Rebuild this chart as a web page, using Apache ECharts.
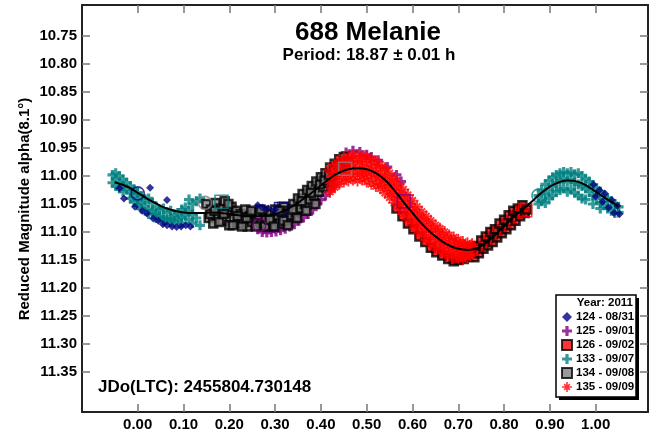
<!DOCTYPE html>
<html><head><meta charset="utf-8">
<script src="https://cdn.jsdelivr.net/npm/echarts@6/dist/echarts.min.js"></script>
<style>html,body{margin:0;padding:0;background:#fff}#c{width:650px;height:433px}</style>
</head><body><div id="c"></div>
<script>
// ---------- DATA ----------
const sessionNames = ['124 - 08/31','125 - 09/01','126 - 09/02','133 - 09/07','134 - 09/08','135 - 09/09'];
const xTicks = [0.00,0.10,0.20,0.30,0.40,0.50,0.60,0.70,0.80,0.90,1.00];
const yTicks = [10.75,10.80,10.85,10.90,10.95,11.00,11.05,11.10,11.15,11.20,11.25,11.30,11.35];

// Fourier fit curve (phase, reduced magnitude)
const fitPhase = [-0.05,-0.02,0.00,0.02,0.04,0.06,0.08,0.10,0.12,0.14,0.16,0.18,0.20,0.22,0.24,0.26,0.28,0.30,0.32,0.34,0.36,0.38,0.40,0.42,0.44,0.46,0.48,0.50,0.52,0.54,0.56,0.58,0.60,0.62,0.64,0.66,0.68,0.70,0.72,0.74,0.76,0.78,0.80,0.82,0.84,0.86,0.88,0.90,0.92,0.94,0.96,0.98,1.00,1.02,1.04,1.05];
const fitMag = [11.011,11.020,11.030,11.040,11.049,11.057,11.062,11.065,11.066,11.066,11.065,11.066,11.068,11.070,11.072,11.072,11.071,11.068,11.062,11.053,11.042,11.030,11.017,11.004,10.994,10.988,10.986,10.988,10.995,11.007,11.025,11.046,11.066,11.085,11.101,11.114,11.124,11.130,11.132,11.129,11.120,11.106,11.090,11.074,11.060,11.046,11.031,11.019,11.011,11.008,11.010,11.017,11.028,11.039,11.049,11.055];

// 124 - 08/31
const s124 = [[-0.040,11.022],[-0.030,11.040],[-0.006,11.055],[0.010,11.062],[0.020,11.067],[0.027,11.021],[0.034,11.076],[0.045,11.080],[0.055,11.086],[0.064,11.043],[0.064,11.088],[0.075,11.090],[0.085,11.091],[0.095,11.090],[0.105,11.088],[0.115,11.090],
 [0.262,11.052],[0.272,11.056],[0.285,11.058],[0.300,11.060],
 [0.995,11.015],[1.000,11.036],[1.008,11.025],[1.015,11.046],[1.020,11.031],[1.028,11.056],[1.035,11.043],[1.040,11.066],[1.047,11.053],[1.052,11.068]];
// 125 - 09/01
const s125 = [[0.262,11.095],[0.272,11.100],[0.282,11.101],[0.292,11.100],[0.302,11.099],[0.312,11.097],[0.322,11.094],[0.332,11.090],[0.342,11.086],[0.352,11.080],[0.362,11.074],[0.372,11.068],[0.382,11.060],[0.392,11.050],[0.400,11.042],[0.410,11.035],[0.420,11.025],[0.430,11.015],[0.307,11.055],
 [0.455,10.958],[0.470,10.955],[0.485,10.957],[0.500,10.962],[0.510,10.966],[0.525,10.972],[0.545,10.984],[0.565,10.998],[0.575,11.010]];
// 126 - 09/02
const s126 = [[0.565,11.058],[0.578,11.072],[0.590,11.085],[0.602,11.095],[0.615,11.108],[0.628,11.118],[0.640,11.128],[0.652,11.136],[0.665,11.142],[0.678,11.148],[0.690,11.152],[0.700,11.150],[0.712,11.148],[0.722,11.144],[0.728,11.130],[0.735,11.145],[0.740,11.125],[0.745,11.138],[0.750,11.115],[0.755,11.130],[0.760,11.108],[0.765,11.124],[0.770,11.100],[0.775,11.118],[0.780,11.095],[0.785,11.110],[0.790,11.085],[0.795,11.102],[0.800,11.078],[0.805,11.095],[0.810,11.070],[0.815,11.088],[0.820,11.062],[0.825,11.080],[0.830,11.058],[0.835,11.072],[0.840,11.052],[0.845,11.066],[0.850,11.060]];
// 133 - 09/07
const s133 = [[-0.055,10.998],[-0.055,11.012],[-0.048,11.005],[-0.048,10.995],[-0.048,11.018],[-0.040,11.000],[-0.040,11.012],[-0.040,11.022],[-0.032,11.006],[-0.032,11.018],[-0.032,11.028],[-0.024,11.012],[-0.024,11.024],[-0.016,11.018],[-0.016,11.030],[-0.016,11.040],[-0.008,11.024],[-0.008,11.036],[-0.008,11.046],[0.000,11.030],[0.000,11.042],[0.000,11.052],[0.008,11.036],[0.008,11.048],[0.008,11.058],[0.016,11.042],[0.016,11.054],[0.024,11.040],[0.024,11.060],[0.024,11.068],[0.032,11.048],[0.032,11.064],[0.040,11.055],[0.040,11.068],[0.040,11.075],[0.048,11.060],[0.048,11.072],[0.056,11.058],[0.056,11.075],[0.056,11.080],[0.064,11.065],[0.064,11.078],[0.072,11.062],[0.072,11.076],[0.072,11.082],[0.080,11.070],[0.080,11.080],[0.088,11.066],[0.088,11.078],[0.096,11.060],[0.096,11.074],[0.096,11.084],[0.104,11.056],[0.104,11.070],[0.112,11.042],[0.112,11.062],[0.112,11.078],[0.120,11.050],[0.120,11.068],[0.120,11.084],[0.128,11.045],[0.128,11.075],[0.136,11.040],[0.136,11.088],
 [0.875,11.035],[0.875,11.050],[0.882,11.025],[0.882,11.045],[0.890,11.015],[0.890,11.032],[0.890,11.048],[0.898,11.008],[0.898,11.025],[0.898,11.040],[0.906,11.002],[0.906,11.018],[0.906,11.035],[0.914,10.998],[0.914,11.012],[0.914,11.028],[0.922,10.995],[0.922,11.008],[0.922,11.025],[0.930,10.993],[0.930,11.005],[0.930,11.022],[0.938,10.995],[0.938,11.010],[0.938,11.028],[0.946,10.993],[0.946,11.006],[0.946,11.024],[0.954,10.997],[0.954,11.012],[0.954,11.030],[0.962,10.995],[0.962,11.015],[0.962,11.035],[0.970,11.000],[0.970,11.018],[0.970,11.040],[0.978,11.005],[0.978,11.022],[0.978,11.042],[0.986,11.010],[0.986,11.028],[0.994,11.016],[0.994,11.035],[0.994,11.050],[1.002,11.022],[1.002,11.040],[1.010,11.028],[1.010,11.048],[1.010,11.058],[1.018,11.035],[1.018,11.052],[1.026,11.040],[1.026,11.058],[1.034,11.045],[1.034,11.062],[1.042,11.050],[1.042,11.066],[1.050,11.055],[1.050,11.065]];
// 134 - 09/08
const s134 = [[0.150,11.050],[0.155,11.075],[0.160,11.060],[0.165,11.085],[0.170,11.048],[0.175,11.070],[0.180,11.058],[0.185,11.080],[0.190,11.045],[0.195,11.065],[0.200,11.088],[0.205,11.055],[0.210,11.075],[0.215,11.062],[0.220,11.085],[0.225,11.068],[0.230,11.078],[0.235,11.060],[0.240,11.090],[0.245,11.072],[0.250,11.082],[0.255,11.065],[0.260,11.078],[0.265,11.070],[0.270,11.085],[0.275,11.062],[0.280,11.075],[0.285,11.088],[0.290,11.068],[0.295,11.080],[0.300,11.060],[0.305,11.072],[0.310,11.085],[0.315,11.065],[0.320,11.055],[0.325,11.078],[0.330,11.062],[0.335,11.070],[0.340,11.050],[0.345,11.065],[0.350,11.040],[0.355,11.058],[0.360,11.032],[0.365,11.050],[0.370,11.025],[0.375,11.042],[0.380,11.018],[0.385,11.035],[0.390,11.010],[0.395,11.028],[0.400,11.002],[0.405,11.020],[0.410,10.995],[0.415,11.012],[0.420,10.985],[0.425,11.000],[0.430,10.978],[0.435,10.992],[0.440,10.970],[0.445,10.985],[0.450,10.966],[0.460,10.975],
 [0.158,11.068],[0.168,11.062],[0.178,11.082],[0.188,11.068],[0.198,11.050],[0.208,11.088],[0.218,11.072],[0.228,11.090],[0.238,11.075],[0.248,11.062],[0.258,11.090],[0.268,11.060],[0.278,11.090],[0.288,11.078],[0.298,11.090],[0.308,11.062],[0.318,11.080],[0.328,11.088],[0.338,11.060],[0.348,11.075],[0.358,11.045],[0.368,11.062],[0.378,11.030],[0.388,11.050],[0.398,11.015],[0.408,11.008],[0.418,10.998],[0.428,10.990],[0.438,10.980]];
// 135 - 09/09
const s135 = [[0.420,10.990],[0.420,11.012],[0.420,11.028],[0.430,10.980],[0.430,11.000],[0.430,11.020],[0.440,10.972],[0.440,10.992],[0.440,11.014],[0.450,10.968],[0.450,10.988],[0.450,11.010],[0.460,10.965],[0.460,10.985],[0.460,11.008],[0.470,10.964],[0.470,10.986],[0.470,11.006],[0.480,10.963],[0.480,10.984],[0.480,11.008],[0.490,10.965],[0.490,10.988],[0.490,11.006],[0.500,10.966],[0.500,10.990],[0.500,11.010],[0.510,10.970],[0.510,10.992],[0.510,11.014],[0.520,10.974],[0.520,10.996],[0.520,11.018],[0.530,10.980],[0.530,11.002],[0.530,11.022],[0.540,10.986],[0.540,11.008],[0.540,11.030],[0.550,10.995],[0.550,11.016],[0.550,11.038],[0.560,11.004],[0.560,11.026],[0.560,11.048],[0.570,11.014],[0.570,11.036],[0.570,11.058],[0.580,11.024],[0.580,11.046],[0.580,11.068],[0.590,11.034],[0.590,11.056],[0.590,11.078],[0.600,11.044],[0.600,11.066],[0.600,11.088],[0.610,11.055],[0.610,11.076],[0.610,11.098],[0.620,11.064],[0.620,11.085],[0.620,11.106],[0.630,11.072],[0.630,11.094],[0.630,11.114],[0.640,11.080],[0.640,11.100],[0.640,11.122],[0.650,11.088],[0.650,11.108],[0.650,11.128],[0.660,11.094],[0.660,11.114],[0.660,11.134],[0.670,11.100],[0.670,11.120],[0.670,11.138],[0.680,11.106],[0.680,11.124],[0.680,11.142],[0.690,11.110],[0.690,11.128],[0.690,11.145],[0.700,11.114],[0.700,11.130],[0.700,11.146],[0.710,11.118],[0.710,11.132],[0.710,11.148],[0.720,11.120],[0.720,11.134],[0.720,11.146],[0.730,11.122],[0.730,11.138],
 [0.425,11.000],[0.425,11.020],[0.435,10.985],[0.435,11.006],[0.445,10.978],[0.445,11.000],[0.455,10.975],[0.455,10.998],[0.465,10.974],[0.465,10.996],[0.475,10.973],[0.475,10.996],[0.485,10.974],[0.485,10.996],[0.495,10.976],[0.495,10.998],[0.505,10.980],[0.505,11.000],[0.515,10.982],[0.515,11.004],[0.525,10.986],[0.525,11.010],[0.535,10.992],[0.535,11.015],[0.545,11.000],[0.545,11.022],[0.555,11.010],[0.555,11.032],[0.565,11.020],[0.565,11.042],[0.575,11.030],[0.575,11.052],[0.585,11.040],[0.585,11.062],[0.595,11.050],[0.595,11.072],[0.605,11.060],[0.605,11.082],[0.615,11.070],[0.615,11.090],[0.625,11.078],[0.625,11.100],[0.635,11.086],[0.635,11.108],[0.645,11.094],[0.645,11.116],[0.655,11.100],[0.655,11.122],[0.665,11.106],[0.665,11.128],[0.675,11.112],[0.675,11.132],[0.685,11.116],[0.685,11.136],[0.695,11.120],[0.695,11.138],[0.705,11.122],[0.705,11.140],[0.715,11.125],[0.715,11.142],[0.725,11.126],[0.725,11.140]];

// session start (open circle) and end (open square) markers
const ringSession = [0,1,5,3,4];
const ringPhase = [0.000,0.266,0.424,0.875,0.147];
const ringMag = [11.031,11.0875,10.988,11.035,11.048];
const boxSession = [0,1,2,3,4];
const boxPhase = [0.313,0.581,0.846,0.183,0.453];
const boxMag = [11.059,11.045,11.061,11.046,10.987];

// ---------- STYLE ----------
const PLUS = 'path://M3.4,0H6.6V3.4H10V6.6H6.6V10H3.4V6.6H0V3.4H3.4Z';
const STAR = 'path://M8.4,0H11.6V20H8.4Z M0,8.4H20V11.6H0Z M5.5,3.2L16.8,14.5L14.5,16.8L3.2,5.5Z M3.2,14.5L14.5,3.2L16.8,5.5L5.5,16.8Z';
const colors = ['#00007f','#800080','#ff0000','#008080','#808080','#ff0000'];
const sessionData = [s124,s125,s126,s133,s134,s135];
const styles = [
  {symbol:'diamond', size:8, itemStyle:{color:colors[0]}},
  {symbol:PLUS, size:10, itemStyle:{color:colors[1]}},
  {symbol:'rect', size:8, itemStyle:{color:colors[2], borderColor:'#000', borderWidth:2.5}},
  {symbol:PLUS, size:10, itemStyle:{color:colors[3]}},
  {symbol:'rect', size:8, itemStyle:{color:colors[4], borderColor:'#000', borderWidth:2.5}},
  {symbol:STAR, size:12, itemStyle:{color:colors[5]}}
];
const FONT = 'Liberation Sans, Arial, sans-serif';
const XMIN = -0.1216, XMAX = 1.1142, YMIN = 10.6946, YMAX = 11.4214;

const series = sessionNames.map((n,i)=>({
  name:n, type:'scatter', data:sessionData[i], symbol:styles[i].symbol, symbolSize:styles[i].size,
  itemStyle:styles[i].itemStyle, z: i===0 ? 3 : 2, silent:true
}));
series.push({
  type:'scatter', z:4, symbol:'circle', symbolSize:13, silent:true,
  data: ringPhase.map((p,i)=>({value:[p,ringMag[i]], itemStyle:{color:'transparent', borderColor:colors[ringSession[i]], borderWidth:1.6, borderType: ringSession[i]===5?'dotted':'solid'}}))
});
series.push({
  type:'scatter', z:4, symbol:'rect', symbolSize:13, silent:true,
  data: boxPhase.map((p,i)=>({value:[p,boxMag[i]], itemStyle:{color:'transparent', borderColor:colors[boxSession[i]], borderWidth:1.6}}))
});
series.push({
  type:'line', z:5, data: fitPhase.map((p,i)=>[p,fitMag[i]]), showSymbol:false, smooth:true,
  lineStyle:{color:'#000', width:2}, silent:true
});

const tickStyle = {show:true, inside:true, length:8, lineStyle:{color:'#777', width:1.5}};
const lineStyle = {show:true, onZero:false, lineStyle:{color:'#222', width:2}};
const labelStyle = {fontFamily:FONT, fontWeight:'bold', fontSize:15, color:'#000'};

const chart = echarts.init(document.getElementById('c'), null, {renderer:'canvas'});
chart.setOption({
  animation:false,
  backgroundColor:'#fff',
  grid:{left:82, right:2, top:5, bottom:21},
  xAxis:[
    {type:'value', position:'bottom', min:XMIN, max:XMAX, axisLine:lineStyle,
     axisTick:Object.assign({customValues:xTicks}, tickStyle),
     axisLabel:Object.assign({customValues:xTicks, margin:5, formatter:v=>v.toFixed(2)}, labelStyle),
     splitLine:{show:false}},
    {type:'value', position:'top', min:XMIN, max:XMAX, axisLine:lineStyle,
     axisTick:Object.assign({customValues:xTicks}, tickStyle), axisLabel:{show:false}, splitLine:{show:false}}
  ],
  yAxis:[
    {type:'value', position:'left', inverse:true, min:YMIN, max:YMAX, axisLine:lineStyle,
     axisTick:Object.assign({customValues:yTicks}, tickStyle),
     axisLabel:Object.assign({customValues:yTicks, margin:5, formatter:v=>v.toFixed(2)}, labelStyle),
     splitLine:{show:false}},
    {type:'value', position:'right', inverse:true, min:YMIN, max:YMAX, axisLine:lineStyle,
     axisTick:Object.assign({customValues:yTicks}, tickStyle), axisLabel:{show:false}, splitLine:{show:false}}
  ],
  legend:{
    data:sessionNames, orient:'vertical', left:561, top:311, padding:0,
    itemWidth:10, itemHeight:10, itemGap:2, z:20, selectedMode:false,
    textStyle:{fontFamily:FONT, fontWeight:'bold', fontSize:11.5, color:'#000', lineHeight:12, padding:[0,0,0,-1]}
  },
  graphic:[
    {type:'rect', z:10, shape:{x:559, y:298, width:80, height:102}, style:{fill:'#000'}},
    {type:'rect', z:10, shape:{x:556, y:295, width:80, height:102}, style:{fill:'#fff', stroke:'#000', lineWidth:1.5}},
    {type:'text', z:11, style:{x:633, y:303, text:'Year: 2011', align:'right', verticalAlign:'middle', font:'bold 11.5px '+FONT, fill:'#000'}},
    {type:'text', z:11, style:{x:368, y:33, text:'688 Melanie', align:'center', verticalAlign:'middle', font:'bold 26px '+FONT, fill:'#000'}},
    {type:'text', z:11, style:{x:369, y:55, text:'Period: 18.87 ± 0.01 h', align:'center', verticalAlign:'middle', font:'bold 17px '+FONT, fill:'#000'}},
    {type:'text', z:11, style:{x:98, y:387, text:'JDo(LTC): 2455804.730148', align:'left', verticalAlign:'middle', font:'bold 17px '+FONT, fill:'#000'}},
    {type:'text', z:11, x:25, y:209, rotation:Math.PI/2, style:{x:0, y:0, text:'Reduced Magnitude alpha(8.1°)', align:'center', verticalAlign:'middle', font:'bold 15px '+FONT, fill:'#000'}}
  ],
  series:series
});
</script></body></html>
